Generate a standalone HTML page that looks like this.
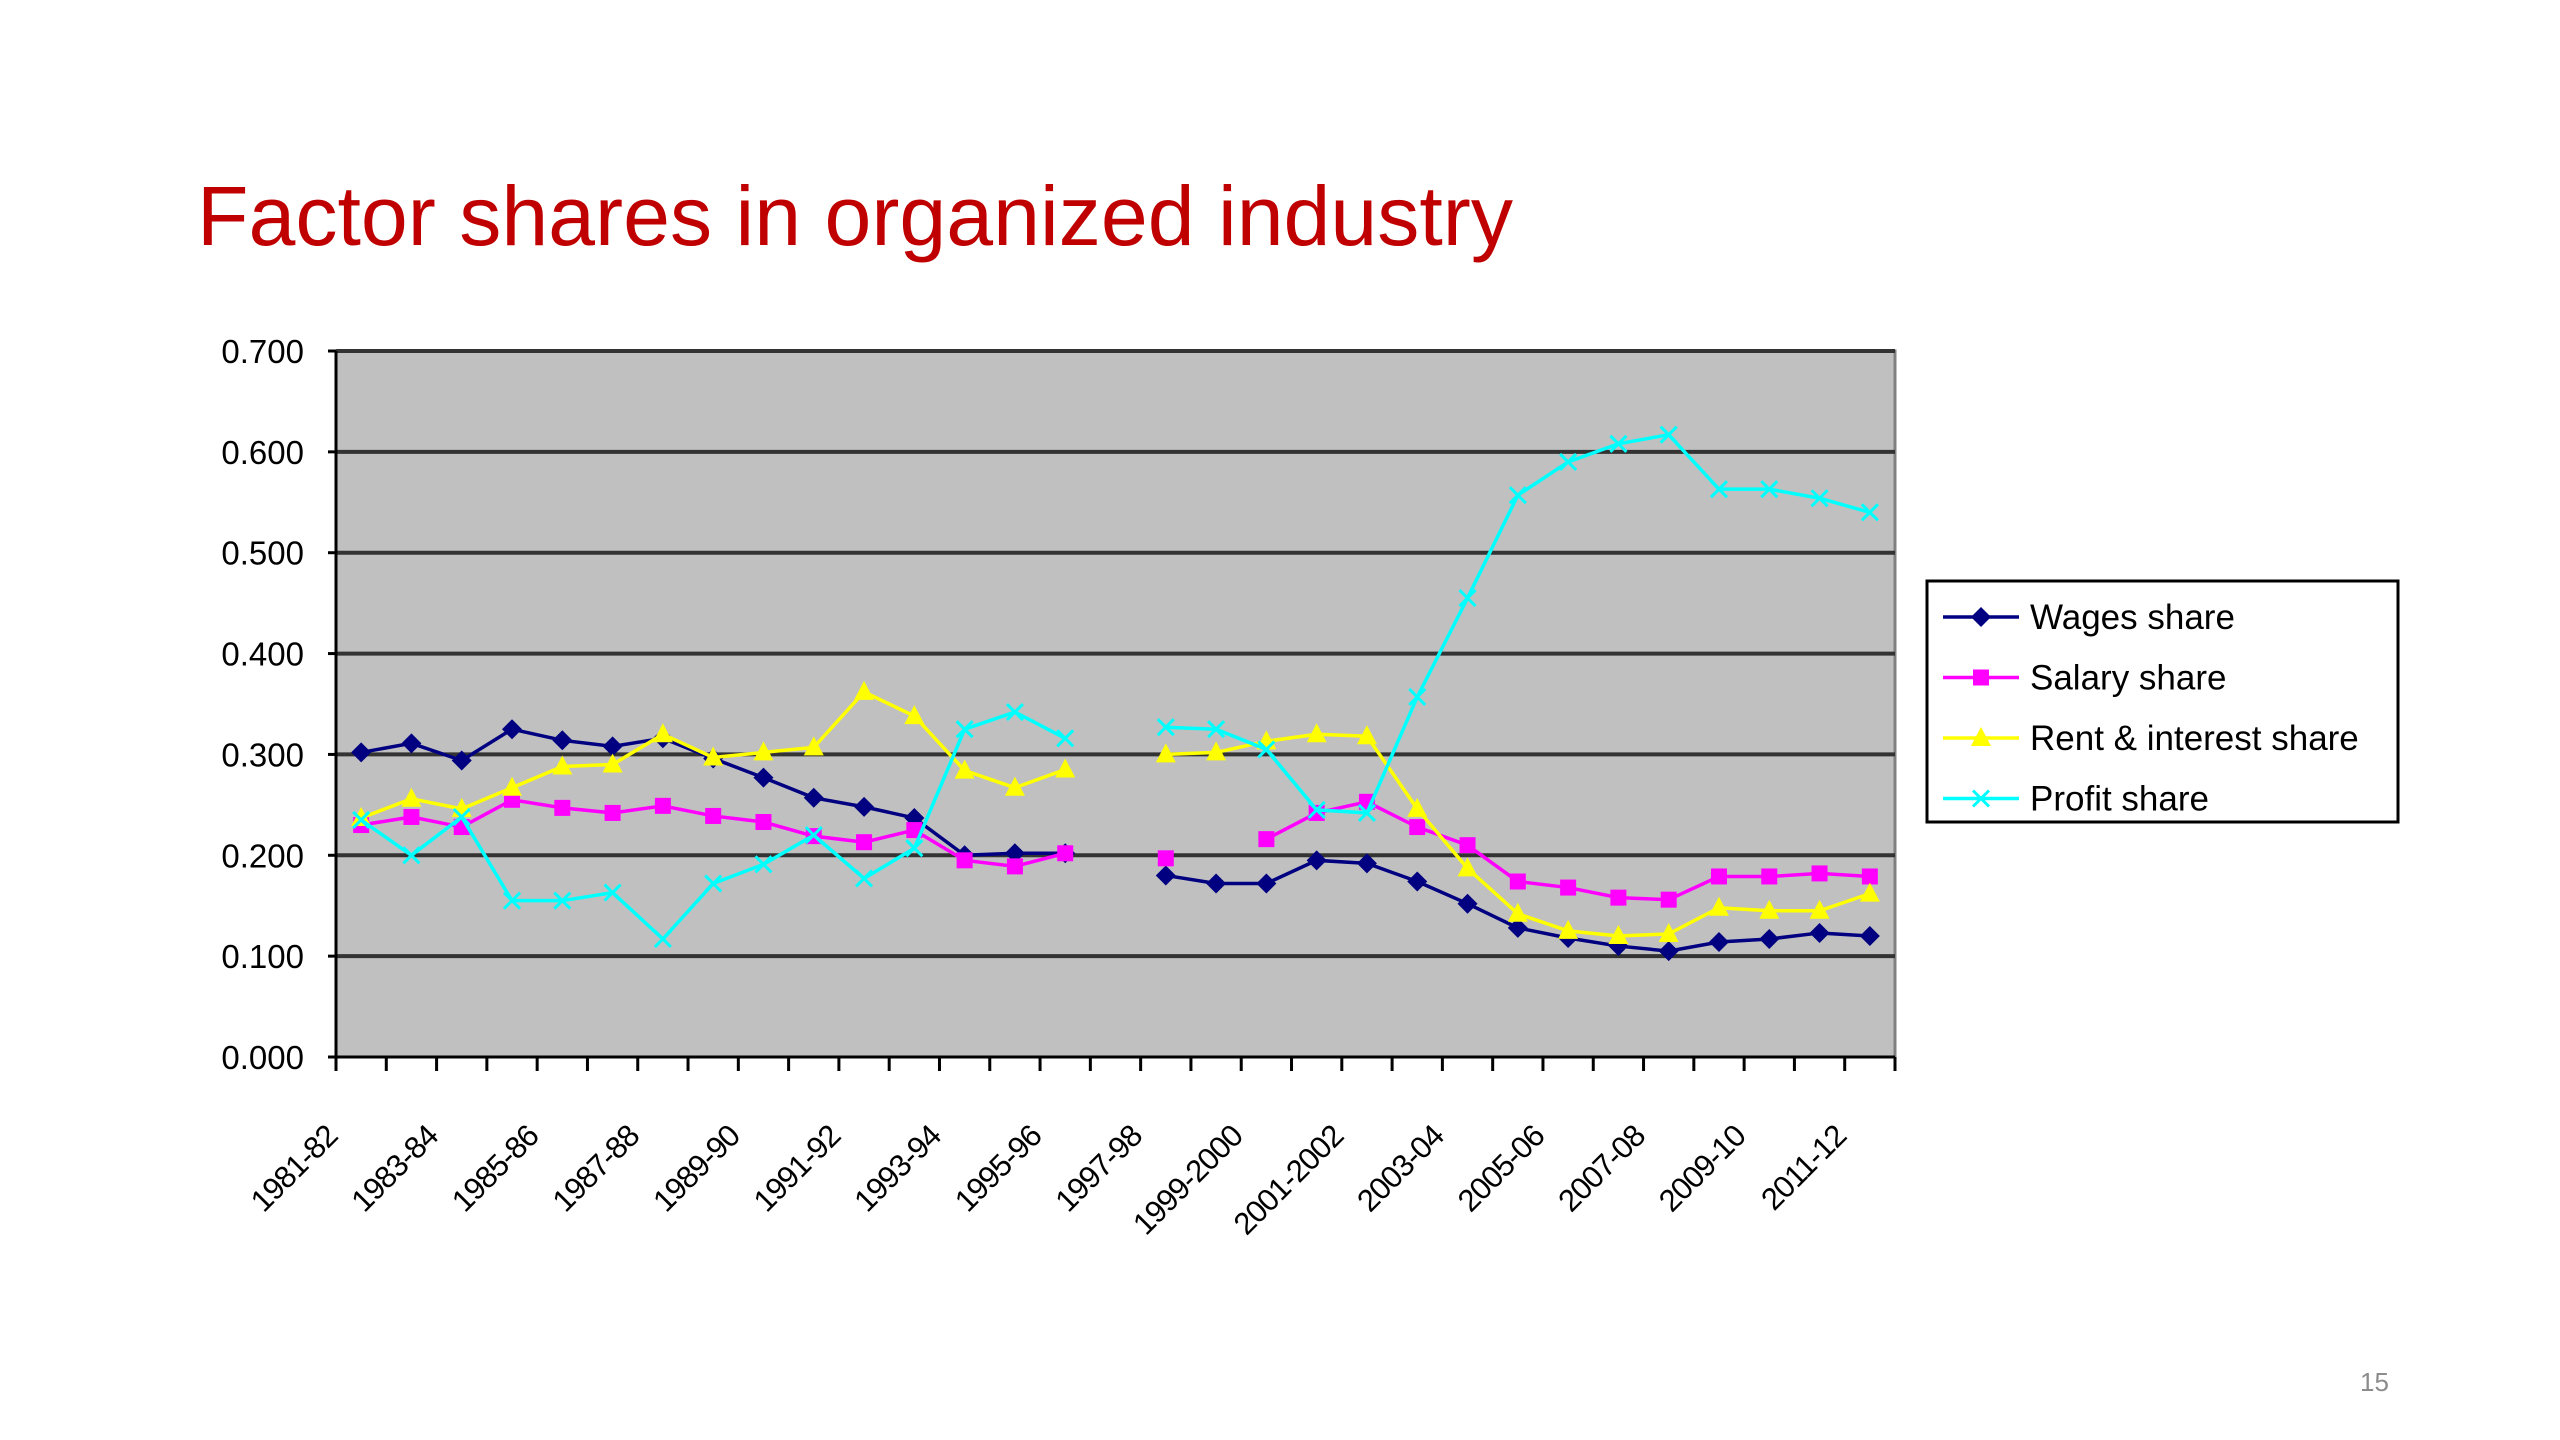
<!DOCTYPE html>
<html><head><meta charset="utf-8"><style>
html,body{margin:0;padding:0;background:#fff;width:2560px;height:1440px;overflow:hidden}
svg{display:block}
</style></head><body>
<svg id="chart" width="2560" height="1440" xmlns="http://www.w3.org/2000/svg">
<text x="197" y="245" font-family="Liberation Sans, sans-serif" font-size="84" fill="#c00000" textLength="1316" lengthAdjust="spacingAndGlyphs">Factor shares in organized industry</text>
<text x="2360" y="1391" font-family="Liberation Sans, sans-serif" font-size="26" fill="#8c8c8c">15</text>
<g id="plot"></g>
</svg>
<script>
const categories=["1981-82","1982-83","1983-84","1984-85","1985-86","1986-87","1987-88","1988-89","1989-90","1990-91","1991-92","1992-93","1993-94","1994-95","1995-96","1996-97","1997-98","1998-99","1999-2000","2000-01","2001-2002","2002-03","2003-04","2004-05","2005-06","2006-07","2007-08","2008-09","2009-10","2010-11","2011-12"];
const wages=[.302,.311,.294,.325,.314,.308,.316,.296,.277,.257,.248,.237,.200,.202,.202,null,.180,.172,.172,.195,.192,.174,.152,.128,.118,.110,.105,.114,.117,.123,.120];
const salary=[.230,.238,.228,.255,.247,.242,.249,.239,.233,.219,.213,.225,.195,.189,.202,null,.197,null,.216,.242,.253,.228,.210,.174,.168,.158,.156,.179,.179,.182,.179];
const rent=[.237,.256,.246,.267,.288,.290,.320,.297,.302,.307,.362,.338,.284,.267,.285,null,.300,.302,.313,.320,.318,.246,.187,.142,.125,.120,.122,.148,.145,.145,.162];
const profit=[.235,.200,.238,.155,.155,.163,.117,.172,.191,.220,.177,.207,.325,.342,.316,null,.327,.325,.305,.245,.242,.357,.455,.557,.590,.608,.617,.563,.563,.554,.540];
const yTicks=["0.000","0.100","0.200","0.300","0.400","0.500","0.600","0.700"];
const seriesNames=["Wages share","Salary share","Rent & interest share","Profit share"];

const NS="http://www.w3.org/2000/svg";
const g=document.getElementById('plot');
const L=336,R=1895,T=351,B=1057,YMAX=0.7;
const step=(R-L)/categories.length;
const xs=i=>L+step*(i+0.5);
const ys=v=>B-(v/YMAX)*(B-T);
function mk(tag,attrs,parent){const e=document.createElementNS(NS,tag);for(const k in attrs)e.setAttribute(k,attrs[k]);(parent||g).appendChild(e);return e;}
const F="Liberation Sans, sans-serif";

const bg=mk('rect',{x:L,y:T,width:R-L,height:B-T,fill:'#c0c0c0',stroke:'#808080','stroke-width':3});



yTicks.forEach(t=>{
  const v=parseFloat(t),y=ys(v);
  if(v>0){const gl=mk('line',{x1:L,x2:R,y1:y,y2:y,stroke:'#333',"stroke-width":4});
  
  }
  const tk=mk('line',{x1:L-8,x2:L,y1:y,y2:y,stroke:'#000','stroke-width':3});
  
  
  const tx=mk('text',{x:304,y:y+12,'text-anchor':'end','font-family':F,'font-size':33,fill:'#000'});
  tx.textContent=t;
  
  
});
const ax=mk('line',{x1:L,x2:R,y1:B,y2:B,stroke:'#000','stroke-width':3});


const ay=mk('line',{x1:L,x2:L,y1:T,y2:B+8,stroke:'#000','stroke-width':3});


for(let i=0;i<=categories.length;i++){
  const x=L+step*i;
  const tk=mk('line',{x1:x,x2:x,y1:B,y2:B+14,stroke:'#000','stroke-width':3});
  
  
}
categories.forEach((c,i)=>{
  if(i%2)return;
  const x=xs(i)-22,y=1138;
  const tx=mk('text',{x:x,y:y,'text-anchor':'end','font-family':F,'font-size':31,fill:'#000',transform:`rotate(-45 ${x} ${y})`,'letter-spacing':'-1'});
  tx.textContent=c;
  
  
});

const colors=['#000080','#ff00ff','#ffff00','#00ffff'];
const data=[wages,salary,rent,profit];
function marker(k,x,y,parent){
  const c=colors[k];let e;
  if(k===0)e=mk('polygon',{points:`${x},${y-10} ${x+10},${y} ${x},${y+10} ${x-10},${y}`,fill:c},parent);
  else if(k===1)e=mk('rect',{x:x-8,y:y-8,width:16,height:16,fill:c},parent);
  else if(k===2)e=mk('polygon',{points:`${x},${y-11} ${x+10},${y+8} ${x-10},${y+8}`,fill:c},parent);
  else e=mk('path',{d:`M${x-8} ${y-8}L${x+8} ${y+8}M${x+8} ${y-8}L${x-8} ${y+8}`,stroke:c,'stroke-width':3,fill:'none'},parent);
  return e;
}
data.forEach((arr,k)=>{
  const sg=mk('g',{});
  
  
  let d='',pen=false;
  arr.forEach((v,i)=>{if(v==null){pen=false;return;}d+=(pen?'L':'M')+xs(i)+' '+ys(v);pen=true;});
  const p=mk('path',{d:d,fill:'none',stroke:colors[k],'stroke-width':3.5},sg);
  
  
  arr.forEach((v,i)=>{if(v==null)return;
    const m=marker(k,xs(i),ys(v),sg);
    
    
  });
});

const lg=mk('g',{});


mk('rect',{x:1927,y:581,width:471,height:241,fill:'#fff',stroke:'#000','stroke-width':3},lg);
seriesNames.forEach((n,k)=>{
  const y=617+k*60.5;
  const eg=mk('g',{},lg);
  
  
  mk('line',{x1:1943,x2:2019,y1:y,y2:y,stroke:colors[k],'stroke-width':3.5},eg);
  marker(k,1981,y,eg);
  const t=mk('text',{x:2030,y:y+12,'font-family':F,'font-size':35,fill:'#000'},eg);
  t.textContent=n;
});
</script>
</body></html>
